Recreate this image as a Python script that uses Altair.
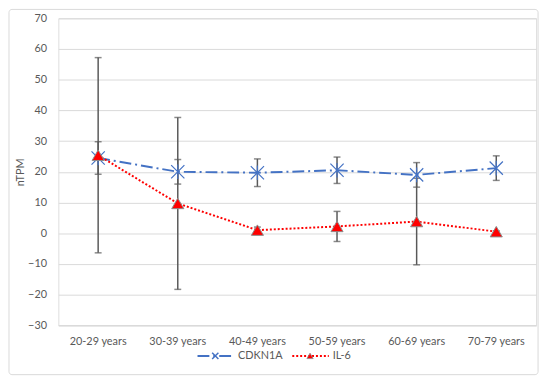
import altair as alt
import pandas as pd

ages = ["20-29 years", "30-39 years", "40-49 years", "50-59 years", "60-69 years", "70-79 years"]
cdkn1a = [24.5, 20.0, 19.7, 20.5, 19.0, 21.2]
cdkn1a_err = [5.3, 4.0, 4.5, 4.3, 4.0, 4.0]
il6 = [25.4, 9.7, 1.0, 2.2, 3.8, 0.5]
il6_err = [31.8, 28.0, 1.0, 4.9, 14.1, 0.3]
y_ticks = [-30, -20, -10, 0, 10, 20, 30, 40, 50, 60, 70]

FONT = "Lato"
GRAY = "#595959"
BLUE = "#4472C4"
RED = "#FF0000"

rows = []
for i, a in enumerate(ages):
    rows.append({"age": a, "series": "CDKN1A", "v": cdkn1a[i],
                 "lo": cdkn1a[i] - cdkn1a_err[i], "hi": cdkn1a[i] + cdkn1a_err[i]})
    rows.append({"age": a, "series": "IL-6", "v": il6[i],
                 "lo": il6[i] - il6_err[i], "hi": il6[i] + il6_err[i]})
df = pd.DataFrame(rows)

x_enc = alt.X("age:N", sort=ages, title=None,
              axis=alt.Axis(labelAngle=0, labelColor=GRAY, labelFontSize=11, labelFont=FONT,
                            ticks=False, domain=True, domainColor="#d9d9d9", labelPadding=10,
                            grid=False))
y_scale = alt.Scale(domain=[-30, 70], nice=False)
y_axis = alt.Axis(values=y_ticks, grid=True, gridColor="#d9d9d9", domain=False, ticks=False,
                  labelOverlap=False, labelColor=GRAY, labelFontSize=11, labelFont=FONT,
                  labelPadding=12, title="nTPM", titleColor=GRAY, titleFontSize=11,
                  titleFont=FONT, titleFontWeight="normal", titlePadding=2)


def yq(field):
    return alt.Y(field, scale=y_scale, axis=y_axis, title="nTPM")


base = alt.Chart(df)

err_rule = base.mark_rule(color=GRAY, strokeWidth=1.5).encode(
    x=x_enc, y=yq("lo:Q"), y2="hi:Q")
cap_lo = base.mark_tick(color=GRAY, thickness=1.5, size=7, orient="horizontal").encode(
    x=x_enc, y=yq("lo:Q"))
cap_hi = base.mark_tick(color=GRAY, thickness=1.5, size=7, orient="horizontal").encode(
    x=x_enc, y=yq("hi:Q"))

c_df = df[df.series == "CDKN1A"]
i_df = df[df.series == "IL-6"]

line_c = alt.Chart(c_df).mark_line(color=BLUE, strokeWidth=2, strokeDash=[12, 4, 2, 4]).encode(
    x=x_enc, y=yq("v:Q"))
line_i = alt.Chart(i_df).mark_line(color=RED, strokeWidth=2, strokeDash=[2, 2]).encode(
    x=x_enc, y=yq("v:Q"))

STAR = "M-1,-1L1,1M-1,1L1,-1M0,-1.1L0,1.1"
pts_c = alt.Chart(c_df).mark_point(shape=STAR, size=180, color=BLUE, strokeWidth=1.2,
                                   filled=False, opacity=1).encode(x=x_enc, y=yq("v:Q"))
pts_i = alt.Chart(i_df).mark_point(shape="triangle-up", size=150, fill=RED, stroke="#8c8c8c",
                                   strokeWidth=1, filled=True, opacity=1).encode(x=x_enc, y=yq("v:Q"))

# manual legend (below plot) and outer border
one = pd.DataFrame({"a": [0]})
LY = 342
leg_line_c = alt.Chart(one).mark_rule(color=BLUE, strokeWidth=2, strokeDash=[12, 4, 2, 4]).encode(
    x=alt.value(141), x2=alt.value(178), y=alt.value(LY))
leg_pt_c = alt.Chart(one).mark_point(shape="M-1,-1L1,1M-1,1L1,-1", size=40, color=BLUE,
                                     strokeWidth=1.5, opacity=1).encode(x=alt.value(159), y=alt.value(LY))
leg_txt_c = alt.Chart(one).mark_text(text="CDKN1A", align="left", baseline="middle", color=GRAY,
                                     fontSize=11, font=FONT).encode(x=alt.value(182), y=alt.value(LY))
leg_line_i = alt.Chart(one).mark_rule(color=RED, strokeWidth=2, strokeDash=[2, 2]).encode(
    x=alt.value(237), x2=alt.value(274), y=alt.value(LY))
leg_pt_i = alt.Chart(one).mark_point(shape="triangle-up", size=40, fill=RED, stroke="#8c8c8c",
                                     strokeWidth=0.8, filled=True, opacity=1).encode(
    x=alt.value(255), y=alt.value(LY))
leg_txt_i = alt.Chart(one).mark_text(text="IL-6", align="left", baseline="middle", color=GRAY,
                                     fontSize=11, font=FONT).encode(x=alt.value(278), y=alt.value(LY))
border = alt.Chart(one).mark_rect(fill=None, stroke="#d9d9d9", strokeWidth=1, cornerRadius=3).encode(
    x=alt.value(-50), x2=alt.value(486), y=alt.value(-9), y2=alt.value(361))

chart = alt.layer(
    border, err_rule, cap_lo, cap_hi, line_c, line_i, pts_c, pts_i,
    leg_line_c, leg_pt_c, leg_txt_c, leg_line_i, leg_pt_i, leg_txt_i
).properties(
    width=484, height=311,
    autosize=alt.AutoSizeParams(type="none"),
    padding={"left": 51, "top": 8, "right": 6, "bottom": 55},
).configure_view(stroke=None).configure(background="white")

chart.save("out.html", embed_options={"renderer": "svg", "actions": False})
